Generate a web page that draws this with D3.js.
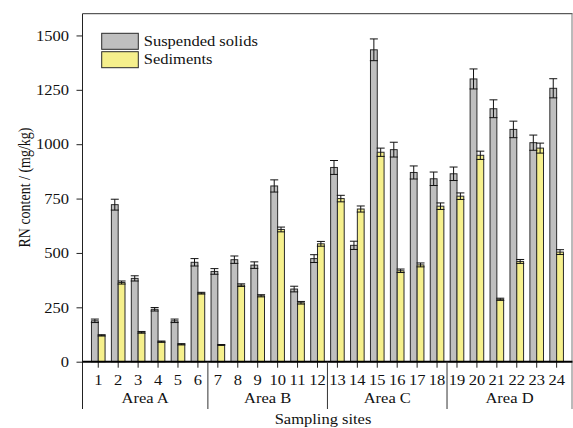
<!DOCTYPE html>
<html>
<head>
<meta charset="utf-8">
<script src="https://cdn.jsdelivr.net/npm/d3@7"></script>
<style>
  html, body { margin: 0; padding: 0; background: #fff; }
  svg { display: block; }
  text { font-family: "Liberation Serif", "Times New Roman", serif; fill: #111; }
</style>
</head>
<body>
<svg id="chart" width="573" height="428"></svg>
<script>
// RN content per sampling site, two media
const sites = ["1","2","3","4","5","6","7","8","9","10","11","12",
               "13","14","15","16","17","18","19","20","21","22","23","24"];
const areas = ["Area A", "Area B", "Area C", "Area D"];
const sitesPerArea = 6;
const seriesNames = ["Suspended solids", "Sediments"];

const suspendedValues = [188, 722, 383, 241, 188, 457, 415, 469, 444, 808, 334, 474,
                         893, 535, 1434, 975, 870, 841, 864, 1300, 1163, 1068, 1007, 1257];
const suspendedErrors = [8, 25, 12, 8, 8, 17, 13, 17, 15, 28, 13, 18,
                         32, 19, 50, 34, 30, 31, 31, 46, 41, 38, 35, 44];
const sedimentValues  = [121, 364, 135, 92, 80, 315, 77, 352, 303, 608, 271, 542,
                         750, 702, 963, 418, 445, 715, 761, 949, 287, 461, 982, 504];
const sedimentErrors  = [3, 7, 4, 3, 3, 4, 2, 6, 5, 11, 6, 11,
                         15, 14, 19, 8, 9, 15, 15, 19, 5, 9, 23, 11];
const yTicks = [0, 250, 500, 750, 1000, 1250, 1500];

const colors = ["#bfbfbf", "#f6f08c"];
const stretch = 1.18;   // wide serif lettering

const svg = d3.select("#chart");
const frame = { left: 82.5, right: 572.5, top: 13.7, axis: 361.7, bottom: 409 };

const x = d3.scaleBand().domain(sites).range([88.3, 566.6]).padding(0);
const xs = d3.scaleBand().domain(seriesNames).range([-6.8, 6.8]).padding(0);
const y = d3.scaleLinear().domain([0, 1600]).range([frame.axis, frame.top]);
const cx = s => x(s) + x.bandwidth() / 2;

const rows = sites.map((s, i) => ({
  site: s,
  values: [
    { name: seriesNames[0], v: suspendedValues[i], e: suspendedErrors[i], c: colors[0] },
    { name: seriesNames[1], v: sedimentValues[i], e: sedimentErrors[i], c: colors[1] }
  ]
}));

// Frame: top and right border
svg.append("line").attr("x1", frame.left).attr("x2", frame.right)
  .attr("y1", frame.top).attr("y2", frame.top)
  .attr("stroke", "#333").attr("stroke-width", 1);
svg.append("line").attr("x1", frame.right - 0.5).attr("x2", frame.right - 0.5)
  .attr("y1", frame.top).attr("y2", frame.bottom)
  .attr("stroke", "#777").attr("stroke-width", 1);

// Bars and error bars
const groups = svg.append("g").selectAll("g").data(rows).join("g")
  .attr("transform", d => `translate(${cx(d.site)},0)`);

groups.selectAll("rect").data(d => d.values).join("rect")
  .attr("x", d => xs(d.name))
  .attr("width", xs.bandwidth())
  .attr("y", d => y(d.v))
  .attr("height", d => y(0) - y(d.v))
  .attr("fill", d => d.c)
  .attr("stroke", "#2a2a2a").attr("stroke-width", 1);

const eb = groups.selectAll("g.err").data(d => d.values).join("g").attr("class", "err")
  .attr("transform", d => `translate(${xs(d.name) + xs.bandwidth() / 2},0)`)
  .attr("stroke", "#111").attr("stroke-width", 1);
eb.append("line").attr("x1", 0).attr("x2", 0)
  .attr("y1", d => y(d.v + d.e)).attr("y2", d => y(d.v - d.e));
eb.append("line").attr("x1", -4).attr("x2", 4)
  .attr("y1", d => y(d.v + d.e)).attr("y2", d => y(d.v + d.e));
eb.append("line").attr("x1", -4).attr("x2", 4)
  .attr("y1", d => y(d.v - d.e)).attr("y2", d => y(d.v - d.e));

// Y axis
const yAxis = svg.append("g").attr("transform", `translate(${frame.left},0)`)
  .call(d3.axisLeft(y).tickValues(yTicks).tickSize(6).tickSizeOuter(0).tickFormat(d3.format("d")));
yAxis.select(".domain").remove();
yAxis.selectAll(".tick line").attr("stroke", "#222");
yAxis.selectAll(".tick text")
  .attr("x", -13.5 / stretch)
  .attr("transform", `scale(${stretch},1)`)
  .attr("dy", "0.34em")
  .style("font-size", "14px").style("font-family", null).attr("fill", "#111");
svg.append("line").attr("x1", frame.left).attr("x2", frame.left)
  .attr("y1", frame.top).attr("y2", frame.bottom)
  .attr("stroke", "#222").attr("stroke-width", 1);

// X axis with site numbers
const xAxis = svg.append("g").attr("transform", `translate(0,${frame.axis})`)
  .call(d3.axisBottom(x).tickSize(6).tickSizeOuter(0));
xAxis.select(".domain").remove();
xAxis.selectAll(".tick line").attr("stroke", "#222");
xAxis.selectAll(".tick text")
  .attr("y", 23.3).attr("dy", 0)
  .attr("transform", `scale(${stretch},1)`)
  .style("font-size", "14px").style("font-family", null).attr("fill", "#111");
svg.append("line").attr("x1", frame.left).attr("x2", frame.right)
  .attr("y1", frame.axis).attr("y2", frame.axis)
  .attr("stroke", "#000").attr("stroke-width", 2);

// Area separators and labels
const bounds = d3.range(areas.length + 1).map(k =>
  k === 0 ? frame.left : k === areas.length ? frame.right - 0.5
          : (x(sites[k * sitesPerArea - 1]) + x.bandwidth() + x(sites[k * sitesPerArea])) / 2);
svg.append("g").selectAll("line").data(bounds.slice(1, -1)).join("line")
  .attr("x1", d => d).attr("x2", d => d)
  .attr("y1", frame.axis).attr("y2", frame.bottom)
  .attr("stroke", "#333").attr("stroke-width", 1);
svg.append("g").selectAll("text").data(areas).join("text")
  .attr("transform", (d, k) => `translate(${(bounds[k] + bounds[k + 1]) / 2},402.6) scale(${stretch},1)`)
  .attr("text-anchor", "middle").style("font-size", "14px").text(d => d);

// Axis titles
svg.append("text")
  .attr("transform", `translate(323,423.5) scale(${stretch},1)`)
  .attr("text-anchor", "middle").style("font-size", "14px").text("Sampling sites");
svg.append("text")
  .attr("transform", `translate(29.5,187.5) scale(${stretch},1) rotate(-90)`)
  .attr("text-anchor", "middle").style("font-size", "14px").text("RN content / (mg/kg)");

// Legend
const legend = svg.append("g").selectAll("g").data(seriesNames).join("g")
  .attr("transform", (d, i) => `translate(101.7,${33.3 + i * 18.4})`);
legend.append("rect").attr("width", 36.6).attr("height", 16)
  .attr("fill", (d, i) => colors[i]).attr("stroke", "#2a2a2a").attr("stroke-width", 1);
legend.append("text")
  .attr("transform", `translate(42,12.7) scale(${stretch},1)`)
  .style("font-size", "14px").text(d => d);
</script>
</body>
</html>
